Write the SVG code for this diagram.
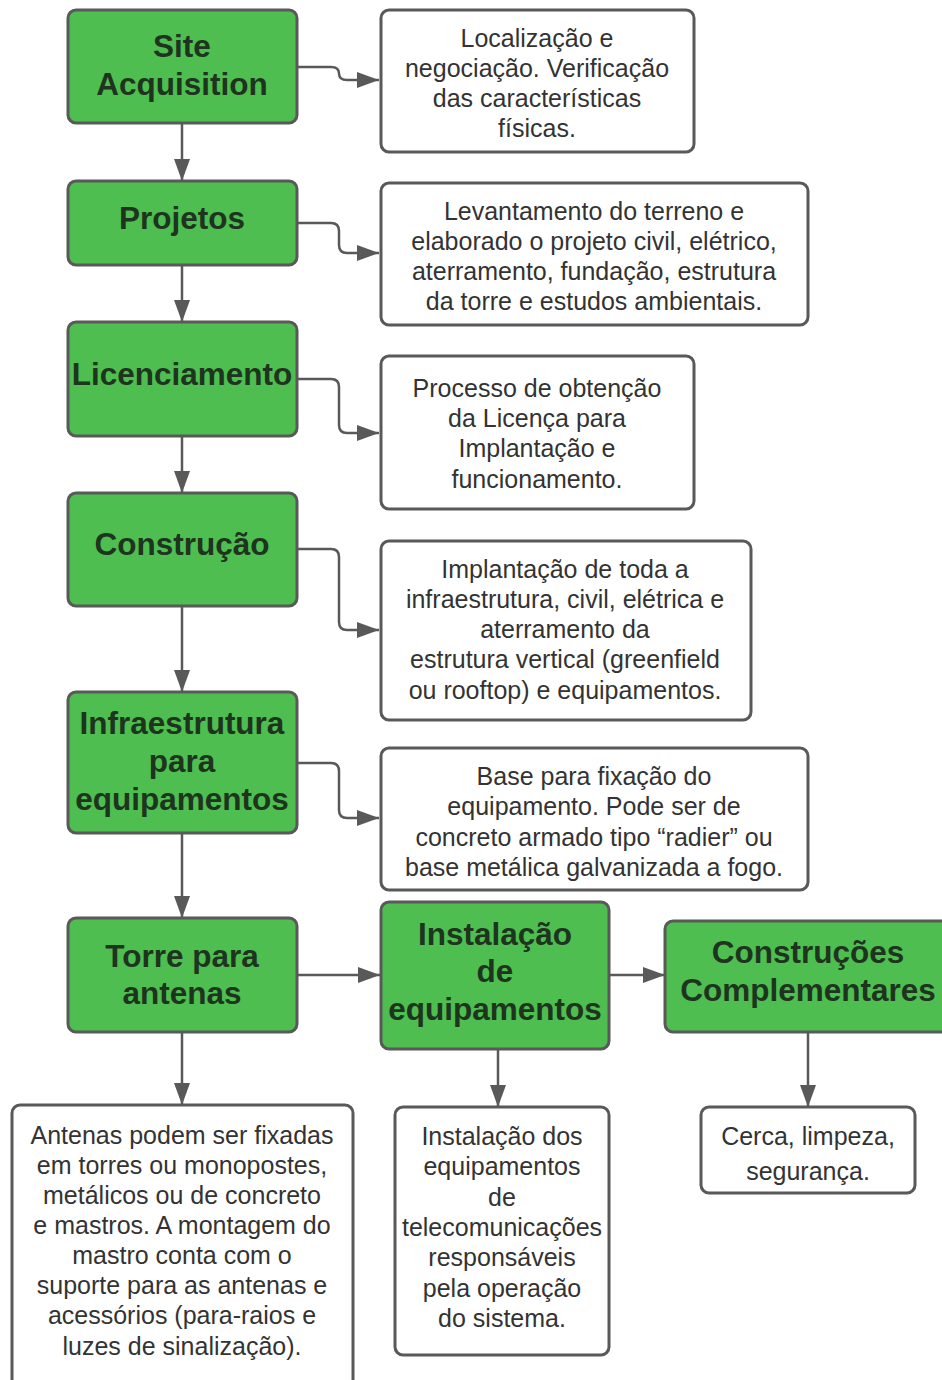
<svg xmlns="http://www.w3.org/2000/svg" width="942" height="1380" viewBox="0 0 942 1380">
<style>
.g{fill:#4dbe4f;stroke:#595959;stroke-width:3}
.w{fill:#ffffff;stroke:#595959;stroke-width:3}
.gt{font-family:"Liberation Sans",Arial,sans-serif;font-weight:bold;font-size:31.5px;fill:#1e341e;text-anchor:middle}
.wt{font-family:"Liberation Sans",Arial,sans-serif;font-size:25px;fill:#333333;text-anchor:middle}
.c{fill:none;stroke:#595959;stroke-width:2.5}
</style>
<defs>
<marker id="a" markerUnits="userSpaceOnUse" markerWidth="24" markerHeight="18" refX="22" refY="8" orient="auto">
<path d="M0,0 L22,8 L0,16 z" fill="#595959"/>
</marker>
</defs>
<rect width="942" height="1380" fill="#ffffff"/>
<g id="connectors">
<path class="c" marker-end="url(#a)" d="M182,123 V181"/>
<path class="c" marker-end="url(#a)" d="M182,265 V322"/>
<path class="c" marker-end="url(#a)" d="M182,436 V493"/>
<path class="c" marker-end="url(#a)" d="M182,606 V692"/>
<path class="c" marker-end="url(#a)" d="M182,833 V918"/>
<path class="c" marker-end="url(#a)" d="M182,1032 V1105"/>
<path class="c" marker-end="url(#a)" d="M297,67 H331 Q339,67 339,73.5 Q339,80 347,80 H379"/>
<path class="c" marker-end="url(#a)" d="M297,223 H331 Q339,223 339,231 V245 Q339,253 347,253 H379"/>
<path class="c" marker-end="url(#a)" d="M297,379 H331 Q339,379 339,387 V425 Q339,433 347,433 H379"/>
<path class="c" marker-end="url(#a)" d="M297,549 H331 Q339,549 339,557 V622 Q339,630 347,630 H379"/>
<path class="c" marker-end="url(#a)" d="M297,763 H331 Q339,763 339,771 V810 Q339,818 347,818 H379"/>
<path class="c" marker-end="url(#a)" d="M297,975 H380"/>
<path class="c" marker-end="url(#a)" d="M609,975 H665"/>
<path class="c" marker-end="url(#a)" d="M498,1049 V1107"/>
<path class="c" marker-end="url(#a)" d="M808,1032 V1107"/>
</g>
<g id="site-acquisition">
<rect class="g" x="68" y="10" width="229" height="113" rx="8"/>
<text class="gt" x="182" y="57">Site</text>
<text class="gt" x="182" y="95">Acquisition</text>
</g>
<g id="projetos">
<rect class="g" x="68" y="181" width="229" height="84" rx="8"/>
<text class="gt" x="182" y="229">Projetos</text>
</g>
<g id="licenciamento">
<rect class="g" x="68" y="322" width="229" height="114" rx="8"/>
<text class="gt" x="182" y="385">Licenciamento</text>
</g>
<g id="construcao">
<rect class="g" x="68" y="493" width="229" height="113" rx="8"/>
<text class="gt" x="182" y="555">Construção</text>
</g>
<g id="infraestrutura">
<rect class="g" x="68" y="692" width="229" height="141" rx="8"/>
<text class="gt" x="182" y="734">Infraestrutura</text>
<text class="gt" x="182" y="772">para</text>
<text class="gt" x="182" y="810">equipamentos</text>
</g>
<g id="torre">
<rect class="g" x="68" y="918" width="229" height="114" rx="8"/>
<text class="gt" x="182" y="967">Torre para</text>
<text class="gt" x="182" y="1004">antenas</text>
</g>
<g id="instalacao">
<rect class="g" x="381" y="902" width="228" height="147" rx="8"/>
<text class="gt" x="495" y="945">Instalação</text>
<text class="gt" x="495" y="982">de</text>
<text class="gt" x="495" y="1020">equipamentos</text>
</g>
<g id="construcoes">
<rect class="g" x="665" y="921" width="290" height="111" rx="8"/>
<text class="gt" x="808" y="963">Construções</text>
<text class="gt" x="808" y="1001">Complementares</text>
</g>
<g id="desc-site">
<rect class="w" x="381" y="10" width="313" height="142" rx="8"/>
<text class="wt" x="537" y="47">Localização e</text>
<text class="wt" x="537" y="77">negociação. Verificação</text>
<text class="wt" x="537" y="107">das características</text>
<text class="wt" x="537" y="137">físicas.</text>
</g>
<g id="desc-projetos">
<rect class="w" x="381" y="183" width="427" height="142" rx="8"/>
<text class="wt" x="594" y="220">Levantamento do terreno e</text>
<text class="wt" x="594" y="250">elaborado o projeto civil, elétrico,</text>
<text class="wt" x="594" y="280">aterramento, fundação, estrutura</text>
<text class="wt" x="594" y="310">da torre e estudos ambientais.</text>
</g>
<g id="desc-licenciamento">
<rect class="w" x="381" y="356" width="313" height="153" rx="8"/>
<text class="wt" x="537" y="397">Processo de obtenção</text>
<text class="wt" x="537" y="427">da Licença para</text>
<text class="wt" x="537" y="457">Implantação e</text>
<text class="wt" x="537" y="488">funcionamento.</text>
</g>
<g id="desc-construcao">
<rect class="w" x="381" y="541" width="370" height="179" rx="8"/>
<text class="wt" x="565" y="578">Implantação de toda a</text>
<text class="wt" x="565" y="608">infraestrutura, civil, elétrica e</text>
<text class="wt" x="565" y="638">aterramento da</text>
<text class="wt" x="565" y="668">estrutura vertical (greenfield</text>
<text class="wt" x="565" y="699">ou rooftop) e equipamentos.</text>
</g>
<g id="desc-infra">
<rect class="w" x="381" y="748" width="427" height="142" rx="8"/>
<text class="wt" x="594" y="785">Base para fixação do</text>
<text class="wt" x="594" y="815">equipamento. Pode ser de</text>
<text class="wt" x="594" y="846">concreto armado tipo “radier” ou</text>
<text class="wt" x="594" y="876">base metálica galvanizada a fogo.</text>
</g>
<g id="desc-torre">
<rect class="w" x="12" y="1105" width="341" height="285" rx="8"/>
<text class="wt" x="182" y="1144">Antenas podem ser fixadas</text>
<text class="wt" x="182" y="1174">em torres ou monopostes,</text>
<text class="wt" x="182" y="1204">metálicos ou de concreto</text>
<text class="wt" x="182" y="1234">e mastros. A montagem do</text>
<text class="wt" x="182" y="1264">mastro conta com o</text>
<text class="wt" x="182" y="1294">suporte para as antenas e</text>
<text class="wt" x="182" y="1324">acessórios (para-raios e</text>
<text class="wt" x="182" y="1355">luzes de sinalização).</text>
</g>
<g id="desc-instalacao">
<rect class="w" x="395" y="1107" width="214" height="248" rx="8"/>
<text class="wt" x="502" y="1145">Instalação dos</text>
<text class="wt" x="502" y="1175">equipamentos</text>
<text class="wt" x="502" y="1206">de</text>
<text class="wt" x="502" y="1236">telecomunicações</text>
<text class="wt" x="502" y="1266">responsáveis</text>
<text class="wt" x="502" y="1297">pela operação</text>
<text class="wt" x="502" y="1327">do sistema.</text>
</g>
<g id="desc-construcoes">
<rect class="w" x="701" y="1107" width="214" height="86" rx="8"/>
<text class="wt" x="808" y="1145">Cerca, limpeza,</text>
<text class="wt" x="808" y="1180">segurança.</text>
</g>
</svg>
